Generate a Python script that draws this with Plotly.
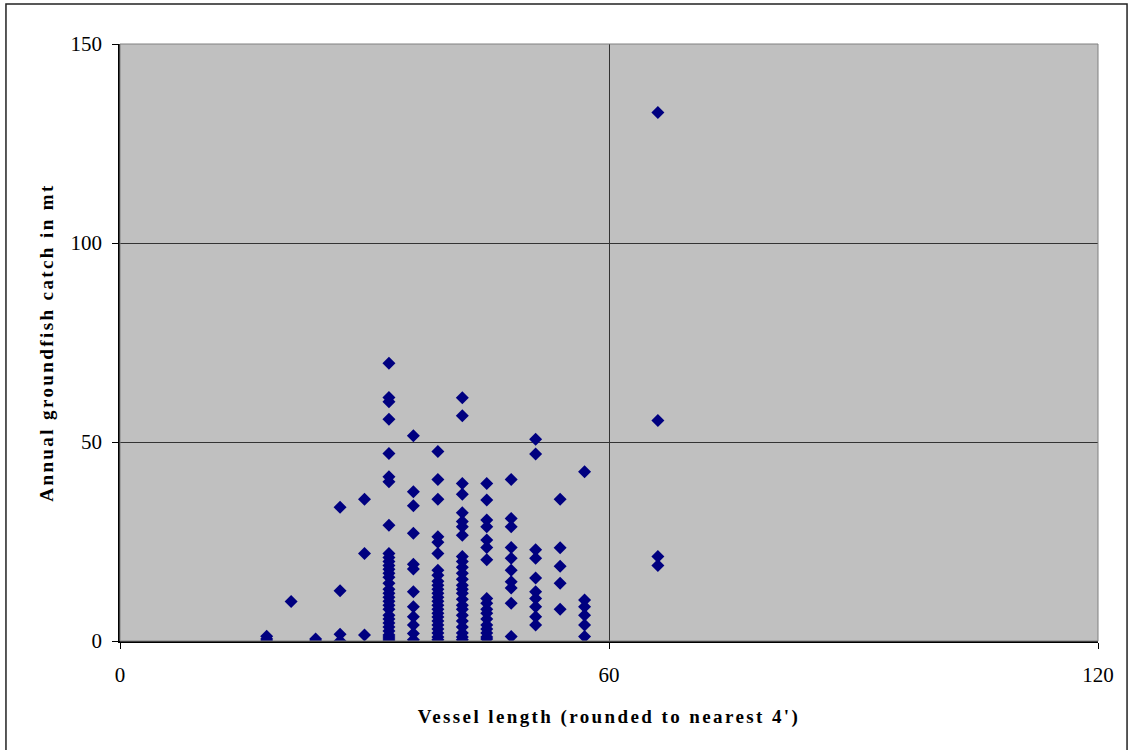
import plotly.graph_objects as go

# Annual groundfish catch (mt) per vessel, grouped by vessel length
lengths = [18, 21, 24, 27, 30, 33, 36, 39, 42, 45, 48, 51, 54, 57, 66]

catch_18 = [1.2, 0.5, 0.0]
catch_21 = [9.9]
catch_24 = [0.5, 0.0]
catch_27 = [33.6, 12.6, 1.7, 0.0]
catch_30 = [35.6, 22.0, 1.5]
catch_33 = [69.8, 61.2, 60.1, 55.7, 47.1, 41.3, 40.0, 29.1, 22.0, 21.0, 20.0,
            19.0, 18.0, 17.0, 16.0, 14.5, 13.0, 12.0, 11.0, 10.0, 9.0, 8.0,
            6.5, 5.5, 4.5, 3.5, 2.5, 1.5, 1.0, 0.5, 0.0]
catch_36 = [51.6, 37.5, 34.0, 27.1, 19.3, 18.1, 12.4, 8.6, 6.1, 4.0, 1.9, 0.3]
catch_39 = [47.6, 40.6, 35.6, 26.2, 24.8, 22.0, 17.8, 16.5, 15.0, 14.0, 13.0,
            12.0, 11.0, 10.0, 9.0, 8.0, 7.0, 6.0, 5.0, 4.0, 3.0, 2.0, 1.0, 0.3]
catch_42 = [61.1, 56.6, 39.6, 36.9, 32.2, 30.0, 28.7, 26.6, 21.2, 20.0, 18.5,
            17.0, 15.5, 14.0, 13.0, 12.0, 10.5, 9.0, 8.0, 6.5, 5.0, 3.5, 2.0,
            1.0, 0.3]
catch_45 = [39.6, 35.4, 30.4, 28.7, 25.4, 23.5, 20.4, 10.7, 9.5, 8.0, 7.0,
            5.5, 4.0, 3.0, 2.0, 1.0, 0.5]
catch_48 = [40.6, 30.8, 28.7, 23.5, 20.8, 17.8, 14.9, 13.3, 9.5, 1.1]
catch_51 = [50.7, 47.0, 22.9, 20.8, 15.8, 12.4, 10.7, 8.6, 6.1, 4.0]
catch_54 = [35.6, 23.4, 18.8, 14.5, 8.0]
catch_57 = [42.5, 10.3, 8.6, 6.5, 4.0, 1.1]
catch_66 = [132.8, 55.4, 21.2, 19.0]

groups = [catch_18, catch_21, catch_24, catch_27, catch_30, catch_33, catch_36,
          catch_39, catch_42, catch_45, catch_48, catch_51, catch_54, catch_57,
          catch_66]

xs, ys = [], []
for length, vals in zip(lengths, groups):
    xs += [length] * len(vals)
    ys += vals

serif = "Liberation Serif, Times New Roman, serif"

fig = go.Figure()
fig.add_trace(go.Scatter(
    x=xs, y=ys, mode="markers",
    marker=dict(symbol="diamond", size=10, color="#000080", line=dict(width=0)),
    showlegend=False,
))

fig.update_layout(
    template="none",
    width=1128, height=750,
    margin=dict(l=120, r=30, t=44, b=109),
    paper_bgcolor="white",
    plot_bgcolor="#C0C0C0",
    font=dict(family=serif, size=21, color="black"),
    shapes=[
        # outer chart border
        dict(type="rect", xref="paper", yref="paper",
             x0=-0.1166, x1=1.0297, y0=-0.25, y1=1.067,
             line=dict(color="#222", width=1.5)),
        # plot area border (top / right)
        dict(type="rect", xref="paper", yref="paper",
             x0=0, x1=1, y0=0, y1=1,
             line=dict(color="#808080", width=1)),
    ],
)

fig.update_xaxes(
    range=[0, 120], dtick=60, tick0=0,
    showgrid=True, gridcolor="#333", gridwidth=1,
    zeroline=False,
    showline=True, linecolor="black", linewidth=1.5,
    ticks="outside", ticklen=6, tickcolor="black",
    ticklabelstandoff=8,
    title=dict(text="<b>Vessel length (rounded to nearest 4')</b>",
               font=dict(size=19), standoff=24),
)
fig.update_yaxes(
    range=[0, 150], dtick=50, tick0=0,
    showgrid=True, gridcolor="#333", gridwidth=1,
    zeroline=False,
    showline=True, linecolor="black", linewidth=1.5,
    ticks="outside", ticklen=6, tickcolor="black",
    ticklabelstandoff=6,
    title=dict(text="<b>Annual groundfish catch in mt</b>",
               font=dict(size=19), standoff=12),
)

# drop the page margin so the figure sits at the window corner,
# and widen the title letter spacing like the original
post = (
    "document.body.style.margin='0';"
    "document.querySelectorAll('.xtitle,.ytitle').forEach(function(e){"
    "e.style.letterSpacing='2.4px';});"
)
fig.write_html("out.html", post_script=post, config={"displayModeBar": False})
